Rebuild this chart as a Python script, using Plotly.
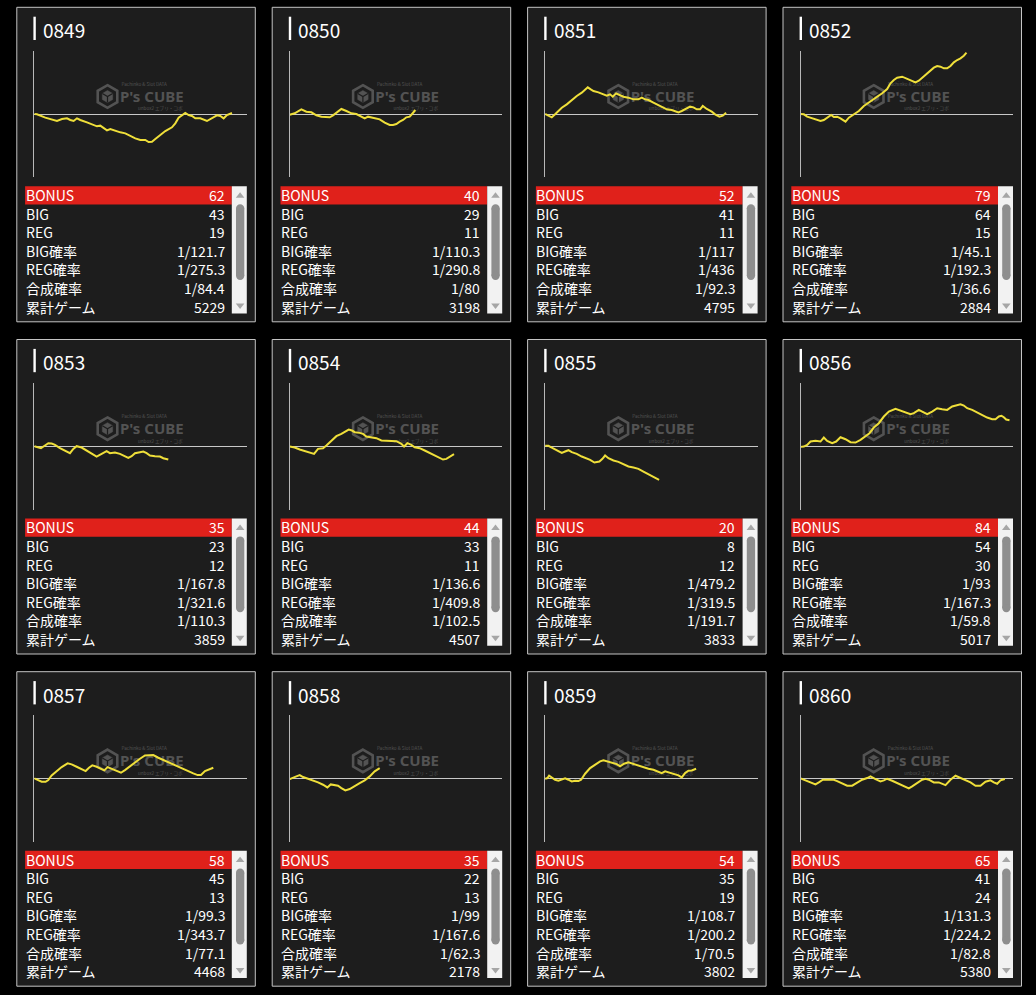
import plotly.graph_objects as go

# ---------------- data ----------------
machines = ["0849", "0850", "0851", "0852", "0853", "0854",
            "0855", "0856", "0857", "0858", "0859", "0860"]
bonus = [62, 40, 52, 79, 35, 44, 20, 84, 58, 35, 54, 65]
big = [43, 29, 41, 64, 23, 33, 8, 54, 45, 22, 35, 41]
reg = [19, 11, 11, 15, 12, 11, 12, 30, 13, 13, 19, 24]
big_rate = ["1/121.7", "1/110.3", "1/117", "1/45.1", "1/167.8", "1/136.6",
            "1/479.2", "1/93", "1/99.3", "1/99", "1/108.7", "1/131.3"]
reg_rate = ["1/275.3", "1/290.8", "1/436", "1/192.3", "1/321.6", "1/409.8",
            "1/319.5", "1/167.3", "1/343.7", "1/167.6", "1/200.2", "1/224.2"]
total_rate = ["1/84.4", "1/80", "1/92.3", "1/36.6", "1/110.3", "1/102.5",
              "1/191.7", "1/59.8", "1/77.1", "1/62.3", "1/70.5", "1/82.8"]
total_games = [5229, 3198, 4795, 2884, 3859, 4507, 3833, 5017, 4468, 2178, 3802, 5380]
row_labels = ["BONUS", "BIG", "REG", "BIG確率", "REG確率", "合成確率", "累計ゲーム"]

# differential-coin graphs (games, coins)
g_0849 = [0, 80, 330, 530, 680, 830, 980, 1080, 1180, 1280, 1380, 1580, 1780, 1880, 1980, 2080, 2180, 2280, 2430, 2580, 2730, 2880, 3030, 3180, 3330, 3430, 3530, 3630, 3780, 3930, 4130, 4230, 4330, 4430, 4530, 4630, 4730, 4830, 4980, 5180, 5330, 5480, 5580, 5680, 5780, 5930]
c_0849 = [0, -20, -220, -320, -420, -300, -260, -360, -420, -260, -360, -500, -660, -740, -700, -860, -980, -900, -1020, -1100, -1160, -1320, -1460, -1560, -1560, -1680, -1660, -1500, -1260, -1020, -800, -560, -220, -60, 60, -60, -120, -260, -260, -420, -260, -80, -120, -260, -60, 60]
g_0850 = [0, 150, 350, 500, 650, 800, 950, 1100, 1200, 1300, 1450, 1550, 1700, 1850, 2000, 2100, 2250, 2350, 2450, 2600, 2700, 2850, 3000, 3100, 3200, 3300, 3400, 3500, 3600, 3670, 3770]
c_0850 = [-40, 40, 280, 140, 100, -80, -160, -200, -200, -80, 180, 300, 180, 40, 0, -120, -260, -160, -200, -280, -320, -520, -660, -660, -600, -460, -360, -200, -160, 0, 240]
g_0851 = [0, 100, 200, 300, 400, 500, 650, 750, 850, 950, 1100, 1200, 1280, 1370, 1450, 1600, 1750, 1850, 1950, 2030, 2130, 2250, 2350, 2500, 2650, 2800, 2900, 3000, 3100, 3250, 3400, 3550, 3650, 3800, 3900, 4000, 4100, 4250, 4350, 4450, 4550, 4650, 4730, 4850, 5000, 5100, 5230, 5330, 5430]
c_0851 = [0, -120, -200, -20, 180, 380, 580, 740, 940, 1080, 1280, 1440, 1600, 1480, 1380, 1300, 1180, 1100, 1180, 1040, 1240, 1140, 1040, 980, 880, 880, 980, 880, 840, 680, 540, 380, 280, 240, 180, 100, 180, 340, 440, 400, 280, 280, 480, 300, 140, -20, -160, -100, 80]
g_0852 = [0, 100, 200, 350, 500, 600, 700, 800, 920, 1000, 1100, 1200, 1350, 1450, 1600, 1750, 1900, 2050, 2250, 2450, 2600, 2700, 2800, 2900, 3050, 3200, 3350, 3450, 3550, 3700, 3850, 4000, 4100, 4200, 4300, 4400, 4500, 4600, 4700, 4800, 4900, 4980]
c_0852 = [0, -20, -160, -260, -320, -420, -360, -220, -60, -180, -160, -260, -460, -220, -20, 180, 480, 680, 940, 1240, 1500, 1840, 2040, 2180, 2240, 2100, 1980, 1900, 2000, 2280, 2540, 2780, 2880, 2840, 2740, 2740, 2880, 3100, 3240, 3340, 3500, 3680]
g_0853 = [0, 100, 200, 320, 420, 520, 620, 770, 920, 1070, 1170, 1270, 1420, 1570, 1720, 1870, 2020, 2170, 2270, 2420, 2570, 2670, 2820, 2920, 3020, 3170, 3270, 3370, 3470, 3620, 3770, 3870, 3970, 4020]
c_0853 = [0, -60, -120, 40, 180, 160, 80, -120, -260, -420, -160, 0, -80, -260, -420, -620, -460, -300, -420, -380, -460, -560, -700, -600, -420, -360, -320, -420, -560, -600, -620, -720, -800, -800]
g_0854 = [0, 150, 300, 450, 600, 730, 850, 1000, 1100, 1250, 1400, 1550, 1650, 1770, 1870, 1950, 2100, 2200, 2300, 2450, 2600, 2750, 2900, 3050, 3200, 3350, 3430, 3530, 3650, 3750, 3900, 4050, 4200, 4350, 4500, 4600, 4700, 4800, 4930]
c_0854 = [-20, -80, -200, -280, -360, -460, -160, -120, 40, 340, 600, 740, 880, 1000, 940, 840, 800, 740, 580, 540, 480, 340, 340, 340, 300, 140, -20, 180, 80, -60, -120, -260, -420, -560, -700, -800, -760, -620, -480]
g_0855 = [0, 100, 200, 350, 500, 600, 700, 800, 950, 1100, 1250, 1350, 1480, 1630, 1720, 1800, 1900, 2050, 2200, 2350, 2500, 2650, 2800, 2950, 3100, 3250, 3420]
c_0855 = [20, 20, -80, -260, -400, -320, -240, -360, -460, -620, -720, -820, -980, -920, -760, -560, -720, -860, -940, -1080, -1220, -1280, -1360, -1520, -1680, -1820, -2020]
g_0856 = [0, 100, 200, 300, 450, 600, 700, 800, 950, 1070, 1200, 1350, 1500, 1650, 1800, 1950, 2070, 2200, 2350, 2500, 2650, 2850, 3000, 3150, 3300, 3400, 3550, 3650, 3800, 3950, 4100, 4250, 4400, 4550, 4700, 4800, 4900, 5000, 5150, 5300, 5450, 5600, 5750, 5850, 5950, 6030, 6100, 6170, 6270]
c_0856 = [-40, -20, 80, 280, 320, 280, 520, 320, 180, 280, 540, 420, 240, 220, 380, 580, 780, 1120, 1380, 1780, 2080, 2240, 2120, 2040, 1920, 1980, 2180, 2080, 1920, 2080, 2280, 2220, 2180, 2380, 2480, 2520, 2440, 2280, 2180, 2020, 1880, 1720, 1620, 1620, 1780, 1820, 1740, 1600, 1560]
g_0857 = [0, 120, 220, 340, 420, 520, 670, 820, 1000, 1120, 1270, 1420, 1540, 1640, 1740, 1870, 2000, 2100, 2200, 2320, 2470, 2600, 2720, 2870, 3020, 3170, 3320, 3470, 3570, 3720, 3870, 4020, 4170, 4320, 4470, 4620, 4770, 4900, 5000, 5120, 5240, 5370]
c_0857 = [0, -100, -200, -200, -100, 180, 440, 680, 900, 840, 700, 580, 440, 640, 780, 700, 580, 480, 680, 580, 440, 340, 500, 740, 940, 1180, 1380, 1380, 1400, 1240, 1100, 980, 840, 700, 580, 440, 300, 200, 200, 440, 540, 640]
g_0858 = [0, 100, 200, 300, 400, 550, 700, 850, 1000, 1130, 1230, 1350, 1450, 1550, 1670, 1800, 1950, 2100, 2250, 2400, 2550, 2700]
c_0858 = [-40, 20, 120, 200, 80, -20, -120, -240, -380, -540, -360, -400, -440, -580, -720, -640, -440, -280, -120, 120, 420, 620]
g_0859 = [0, 70, 120, 200, 300, 400, 500, 600, 700, 800, 900, 1000, 1080, 1200, 1350, 1500, 1650, 1750, 1850, 2000, 2150, 2250, 2370, 2500, 2650, 2800, 2950, 3100, 3250, 3400, 3500, 3600, 3700, 3850, 4000, 4100, 4200, 4300, 4400, 4530]
c_0859 = [-20, 20, 160, 60, -80, -140, -80, 0, -80, -180, -140, -160, -80, 280, 620, 820, 1020, 1080, 1020, 920, 860, 720, 880, 960, 860, 760, 660, 580, 520, 420, 320, 420, 360, 260, 180, 60, 320, 460, 480, 580]
g_0860 = [0, 150, 300, 450, 550, 670, 850, 1000, 1100, 1250, 1400, 1550, 1700, 1850, 2000, 2100, 2250, 2400, 2500, 2600, 2750, 2900, 3050, 3150, 3250, 3350, 3500, 3650, 3750, 3850, 4000, 4150, 4350, 4500, 4650, 4800, 4950, 5100, 5250, 5400, 5550, 5700, 5800, 5900, 6000, 6130]
c_0860 = [0, -120, -280, -360, -240, -80, -80, -80, -160, -280, -440, -440, -280, -80, 20, 120, -40, -180, -120, -20, -140, -280, -380, -480, -600, -480, -280, -80, -20, -80, -240, -240, -400, -80, 160, 20, -120, -240, -440, -440, -200, -120, -240, -320, -120, -40]

series_games = [g_0849, g_0850, g_0851, g_0852, g_0853, g_0854,
                g_0855, g_0856, g_0857, g_0858, g_0859, g_0860]
series_coins = [c_0849, c_0850, c_0851, c_0852, c_0853, c_0854,
                c_0855, c_0856, c_0857, c_0858, c_0859, c_0860]

# ---------------- layout geometry ----------------
FW, FH = 1036, 995
COL_X = [16.8 + 255.4 * c for c in range(4)]
ROW_Y = [7.3 + 332.2 * r for r in range(3)]
PW, PH = 238.5, 314.5
AX_L, AX_R = 17.5, 230.0
AX_T, AX_B, AX_Z = 43.4, 170.0, 106.7
GPP, CPP = 30, 60  # games per pixel, coins per pixel
X_RANGE = [0, (AX_R - AX_L) * GPP]
Y_RANGE = [-(AX_B - AX_Z) * CPP, (AX_Z - AX_T) * CPP]

FONT = "Noto Sans CJK JP"
PANEL_BG = "#1d1d1d"
BORDER = "#c4c4c4"
RED = "#e0211b"
LINE_YELLOW = "#efdf3a"
WM = "#535353"


def fx(x):
    return x / FW


def fy(y):
    return 1 - y / FH


def rect(x0, y0, x1, y1, fill, line=None, lw=0, layer="above"):
    return dict(type="rect", xref="paper", yref="paper",
                x0=fx(x0), x1=fx(x1), y0=fy(y1), y1=fy(y0),
                fillcolor=fill, line=dict(color=line or fill, width=lw), layer=layer)


def circle(x0, y0, x1, y1, fill):
    return dict(type="circle", xref="paper", yref="paper",
                x0=fx(x0), x1=fx(x1), y0=fy(y1), y1=fy(y0),
                fillcolor=fill, line=dict(width=0), layer="above")


def path(pts, fill=None, line=None, lw=0, layer="above", close=True):
    d = "M " + " L ".join(f"{fx(x):.6f},{fy(y):.6f}" for x, y in pts)
    if close:
        d += " Z"
    return dict(type="path", xref="paper", yref="paper", path=d,
                fillcolor=fill or "rgba(0,0,0,0)",
                line=dict(color=line or "rgba(0,0,0,0)", width=lw), layer=layer)


def hexpts(cx, cy, r):
    return [(cx, cy - r), (cx + 0.866 * r, cy - 0.5 * r), (cx + 0.866 * r, cy + 0.5 * r),
            (cx, cy + r), (cx - 0.866 * r, cy + 0.5 * r), (cx - 0.866 * r, cy - 0.5 * r)]


fig = go.Figure()
shapes = []
annotations = []
layout_axes = {}

ROW0, ROW_STEP = 187.8, 18.6

for i, name in enumerate(machines):
    L = COL_X[i % 4]
    T = ROW_Y[i // 4]
    n = "" if i == 0 else str(i + 1)

    # panel
    shapes.append(rect(L, T, L + PW, T + PH, PANEL_BG, BORDER, 1, layer="below"))
    # watermark icon
    cx, cy = L + 90.7, T + 89.2
    shapes.append(path(hexpts(cx, cy, 11.3), None, WM, 2.6, layer="below"))
    shapes.append(path(hexpts(cx, cy, 6.0), WM, WM, 0.5, layer="below"))
    hp = hexpts(cx, cy, 6.0)
    shapes.append(path([hp[5], (cx, cy), hp[1]], None, PANEL_BG, 1.2, layer="below", close=False))
    shapes.append(path([(cx, cy), hp[3]], None, PANEL_BG, 1.2, layer="below", close=False))

    # title bar + text
    shapes.append(rect(L + 16.6, T + 9.4, L + 19.0, T + 32.7, "#ffffff"))
    annotations.append(dict(x=fx(L + 24.0), y=fy(T + 22.4), xref="paper", yref="paper",
                            text=name, showarrow=False, xanchor="left", yanchor="middle",
                            font=dict(family=FONT, size=19, color="#ffffff")))

    # table
    shapes.append(rect(L + 8.3, T + 179.0, L + 215.0, T + 197.3, RED))
    shapes.append(rect(L + 215.0, T + 179.0, L + 230.0, T + 306.3, "#f2f2f2"))
    shapes.append(rect(L + 219.2, T + 201.0, L + 227.5, T + 268.6, "#8e8e8e"))
    shapes.append(circle(L + 219.2, T + 196.9, L + 227.5, T + 205.2, "#8e8e8e"))
    shapes.append(circle(L + 219.2, T + 264.4, L + 227.5, T + 272.7, "#8e8e8e"))
    shapes.append(path([(L + 219.0, T + 190.4), (L + 227.6, T + 190.4), (L + 223.3, T + 185.0)], "#a6a6a6"))
    shapes.append(path([(L + 219.0, T + 296.3), (L + 227.6, T + 296.3), (L + 223.3, T + 301.7)], "#a6a6a6"))

    values = [bonus[i], big[i], reg[i], big_rate[i], reg_rate[i], total_rate[i], total_games[i]]
    for r, (lab, val) in enumerate(zip(row_labels, values)):
        yy = fy(T + ROW0 + ROW_STEP * r)
        annotations.append(dict(x=fx(L + 6.8), y=yy, xref="paper", yref="paper", text=lab,
                                showarrow=False, xanchor="left", yanchor="middle",
                                font=dict(family=FONT, size=14, color="#ffffff")))
        annotations.append(dict(x=fx(L + 209.8), y=yy, xref="paper", yref="paper", text=str(val),
                                showarrow=False, xanchor="right", yanchor="middle",
                                font=dict(family=FONT, size=14, color="#ffffff")))

    # watermark text (below the line)
    fig.add_trace(go.Scatter(
        x=[(127.4 - AX_L) * GPP, (135.0 - AX_L) * GPP, (143.5 - AX_L) * GPP],
        y=[(AX_Z - 77.4) * CPP, (AX_Z - 91.0) * CPP, (AX_Z - 102.0) * CPP],
        text=["Pachinko & Slot DATA", "<b>P's CUBE</b>", "unbox2 エブリ・コボ"],
        mode="text", textposition="middle center",
        textfont=dict(family=[FONT, "Noto Sans", FONT], size=[4.6, 15, 4.6], color=WM),
        xaxis="x" + n, yaxis="y" + n, hoverinfo="skip", showlegend=False))

    # line
    fig.add_trace(go.Scatter(x=series_games[i], y=series_coins[i], mode="lines",
                             line=dict(color=LINE_YELLOW, width=2),
                             xaxis="x" + n, yaxis="y" + n, hoverinfo="skip",
                             showlegend=False))

    layout_axes["xaxis" + n] = dict(domain=[fx(L + AX_L), fx(L + AX_R)], range=X_RANGE,
                                    anchor="y" + n, showgrid=False, zeroline=False,
                                    showline=False, showticklabels=False, ticks="",
                                    fixedrange=True)
    layout_axes["yaxis" + n] = dict(domain=[fy(T + AX_B), fy(T + AX_T)], range=Y_RANGE,
                                    anchor="x" + n, showgrid=False, zeroline=True,
                                    zerolinecolor="#c8c8c8", zerolinewidth=1,
                                    showline=True, linecolor="#b8b8b8", linewidth=1,
                                    showticklabels=False, ticks="", fixedrange=True)

fig.update_layout(width=FW, height=FH, margin=dict(l=0, r=0, t=0, b=0),
                  paper_bgcolor="#000000", plot_bgcolor="rgba(0,0,0,0)",
                  shapes=shapes, annotations=annotations, showlegend=False,
                  **layout_axes)

fig.write_html("out.html", config={"displayModeBar": False},
               post_script="document.body.style.margin='0';document.body.style.overflow='hidden';")
